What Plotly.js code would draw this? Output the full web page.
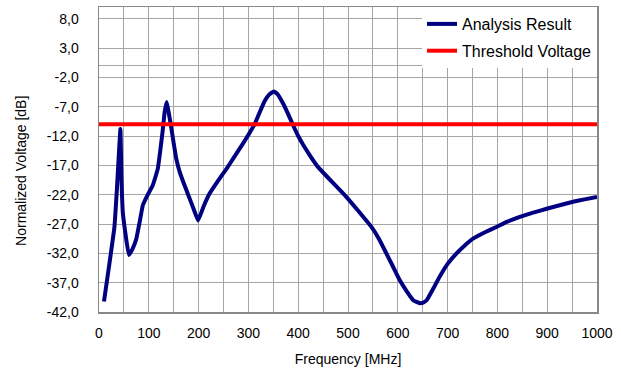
<!DOCTYPE html>
<html>
<head>
<meta charset="utf-8">
<script src="https://cdn.plot.ly/plotly-3.0.1.min.js"></script>
<style>html,body{margin:0;padding:0;background:#fff;}#chart{width:621px;height:372px;}</style>
</head>
<body>
<div id="chart"></div>
<script>
// Data
const freq = [10, 20, 31, 36, 43, 45, 48, 60, 67, 75, 82, 88, 98, 108, 118, 123, 128, 132, 136, 140, 145, 149, 155, 162, 170, 179, 189, 199, 210, 222, 240, 256, 272, 289, 300, 313, 323, 333, 342, 351, 358, 370, 380, 390, 400, 410, 425, 440, 470, 497, 520, 547, 562, 577, 590, 604, 618, 631, 644, 651, 658, 670, 684, 700, 718, 735, 751, 775, 798, 820, 845, 870, 899, 925, 952, 975, 1000];
const voltage = [-40.2, -34.3, -27.5, -21.0, -10.8, -19.0, -25.2, -32.3, -31.3, -29.5, -26.5, -23.8, -22.0, -20.4, -17.6, -14.5, -11.0, -7.8, -6.2, -8.0, -10.5, -12.7, -15.8, -18.1, -20.0, -22.0, -24.2, -26.4, -24.0, -21.8, -19.5, -17.6, -15.5, -13.3, -11.8, -9.9, -7.9, -6.0, -4.9, -4.4, -4.8, -6.5, -8.3, -10.2, -12.0, -13.5, -15.5, -17.3, -20.0, -22.4, -24.7, -27.5, -29.5, -32.0, -34.2, -36.6, -38.5, -40.0, -40.5, -40.4, -40.0, -38.2, -36.0, -33.8, -32.0, -30.6, -29.5, -28.4, -27.5, -26.6, -25.8, -25.1, -24.4, -23.8, -23.2, -22.8, -22.4];
const thresholdFreq = [0, 1000];
const thresholdVoltage = [-10, -10];
const yTickVals = [8, 3, -2, -7, -12, -17, -22, -27, -32, -37, -42];
const yTickText = ['8,0', '3,0', '-2,0', '-7,0', '-12,0', '-17,0', '-22,0', '-27,0', '-32,0', '-37,0', '-42,0'];
const seriesNames = ['Analysis Result', 'Threshold Voltage'];
const xTitle = 'Frequency [MHz]';
const yTitle = 'Normalized Voltage [dB]';

const font = 'Liberation Sans, Arial, sans-serif';
const gridCol = '#a6a6a6';

const traces = [
  {x: freq, y: voltage, mode: 'lines', name: seriesNames[0], legendgroup: 'a',
   line: {color: '#000080', width: 4, shape: 'spline', smoothing: 0.3}},
  {x: thresholdFreq, y: thresholdVoltage, mode: 'lines', name: seriesNames[1], legendgroup: 'b',
   line: {color: '#ff0000', width: 4}}
];

const layout = {
  width: 621, height: 372,
  margin: {l: 99, r: 24, t: 7, b: 60},
  paper_bgcolor: '#fff', plot_bgcolor: '#fff',
  font: {family: font, color: '#000', size: 14},
  showlegend: true,
  legend: {x: 1, xanchor: 'right', y: 1, yanchor: 'top', bgcolor: '#fff', borderwidth: 0,
           font: {family: font, size: 16, color: '#000'}, traceorder: 'grouped', tracegroupgap: 3,
           itemwidth: 30},
  xaxis: {range: [0, 1000], dtick: 100, tick0: 0, showgrid: true, gridcolor: gridCol, gridwidth: 1,
          minor: {dtick: 50, showgrid: true, gridcolor: gridCol, gridwidth: 1},
          zeroline: false, showline: true, mirror: true, linecolor: '#888', linewidth: 1.5,
          ticks: '', ticklabelstandoff: 8, tickfont: {family: font, size: 14, color: '#000'},
          title: {text: xTitle, font: {family: font, size: 14, color: '#000'}, standoff: 14}},
  yaxis: {range: [-42, 10], tickvals: yTickVals, ticktext: yTickText, showgrid: true, gridcolor: gridCol, gridwidth: 1,
          zeroline: true, zerolinecolor: gridCol, zerolinewidth: 1,
          showline: true, mirror: true, linecolor: '#888', linewidth: 1.5,
          ticks: '', ticklabelstandoff: 16, tickfont: {family: font, size: 14, color: '#000'}},
  annotations: [
    {text: yTitle, xref: 'paper', yref: 'paper', x: -0.157, y: 0.462, xanchor: 'center', yanchor: 'middle',
     textangle: -90, showarrow: false, font: {family: font, size: 14, color: '#000'}}
  ]
};

Plotly.newPlot('chart', traces, layout, {displayModeBar: false, staticPlot: true});
</script>
</body>
</html>
